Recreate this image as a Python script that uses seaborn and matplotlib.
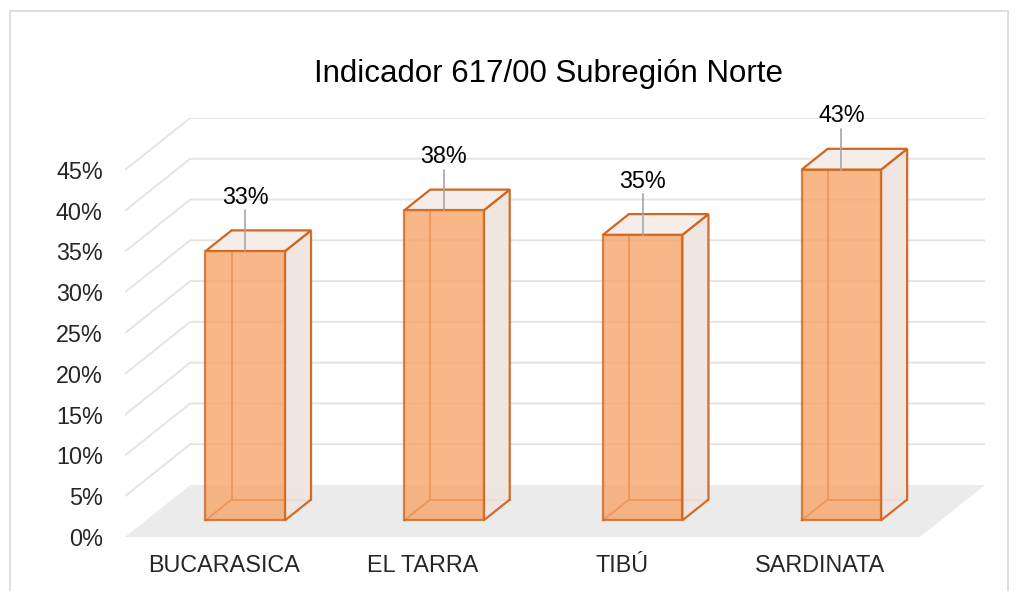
import numpy as np
import pandas as pd
import seaborn as sns
import matplotlib.pyplot as plt
from matplotlib.patches import Polygon, Rectangle

# data
municipios = ["BUCARASICA", "EL TARRA", "TIBÚ", "SARDINATA"]
porcentajes = [33, 38, 35, 43]
titulo = "Indicador 617/00 Subregión Norte"
y_ticks = list(range(0, 50, 5))

# pseudo-3D depth (category units / percent units)
DX, DY = 0.328, 6.37
Z0, Z1 = 0.32, 0.72
FACE = "#F8A468"
EDGE = "#D0661F"
SIDE = "#EFE5E0"
TOP = "#F4EDE9"
GRID = "#E4E4E4"

sns.set_style("white")
plt.rcParams["font.family"] = ["Liberation Sans", "DejaVu Sans"]

df = pd.DataFrame({"municipio": municipios, "valor": porcentajes})

fig = plt.figure(figsize=(10.18, 5.91), dpi=100)
ax = fig.add_axes([0.1228, 0.0914, 0.8448, 0.709])

sns.barplot(data=df, x="municipio", y="valor", width=0.4, color=FACE,
            saturation=1, alpha=0.8, edgecolor=EDGE, linewidth=1.6,
            ax=ax, zorder=5)

# floor
ax.add_patch(Polygon([(-0.5, 0), (3.5, 0), (3.5 + DX, DY), (-0.5 + DX, DY)],
                     closed=True, facecolor="#EBEBEB", edgecolor="none", zorder=0))

# gridlines: side wall + back wall
for v in y_ticks[1:]:
    ax.plot([-0.5, -0.5 + DX, 3.5 + DX], [v, v + DY, v + DY],
            color=GRID, lw=1.4, zorder=1, solid_capstyle="butt")

# 3D boxes from the seaborn bars
for p, val in zip(ax.patches[:len(porcentajes)], porcentajes):
    x0 = p.get_x() + Z0 * DX
    w = p.get_width()
    y0 = Z0 * DY
    h = p.get_height()
    p.set_x(x0)
    p.set_y(y0)
    bx, by = (Z1 - Z0) * DX, (Z1 - Z0) * DY
    # back edges (seen through front face)
    ax.plot([x0 + bx, x0 + bx, x0 + w + bx], [y0 + h + by, y0 + by, y0 + by],
            color=EDGE, lw=1.4, zorder=2)
    ax.plot([x0, x0 + bx], [y0, y0 + by], color=EDGE, lw=1.4, zorder=2)
    # right side face
    ax.add_patch(Polygon([(x0 + w, y0), (x0 + w + bx, y0 + by),
                          (x0 + w + bx, y0 + h + by), (x0 + w, y0 + h)],
                         closed=True, facecolor=SIDE, edgecolor=EDGE,
                         lw=1.6, zorder=3, alpha=0.95))
    # top face
    ax.add_patch(Polygon([(x0, y0 + h), (x0 + w, y0 + h),
                          (x0 + w + bx, y0 + h + by), (x0 + bx, y0 + h + by)],
                         closed=True, facecolor=TOP, edgecolor=EDGE,
                         lw=1.6, zorder=4))
    # data label with leader line
    cx = x0 + w / 2
    ly = y0 + h + 6.6
    ax.plot([cx, cx], [y0 + h, ly - 1.6], color="#A6A6A6", lw=1.2, zorder=6)
    ax.text(cx, ly, f"{val}%", ha="center", va="center", fontsize=16.8,
            color="#000000", zorder=7)

ax.set_xlim(-0.5, 3.5 + DX)
ax.set_ylim(0, 45 + DY)
ax.set_yticks(y_ticks)
ax.set_yticklabels([f"{t}%" for t in y_ticks], fontsize=16.8)
ax.set_xticks(range(len(municipios)))
ax.set_xticklabels(municipios, fontsize=16.8)
ax.tick_params(axis="y", length=0, pad=16)
ax.tick_params(axis="x", length=0, pad=12)
ax.set_xlabel("")
ax.set_ylabel("")
for s in ax.spines.values():
    s.set_visible(False)
ax.patch.set_alpha(0)

fig.text(549 / 1018, 1 - 74 / 591, titulo, ha="center", va="center",
         fontsize=22.5, color="#000000")

fig.add_artist(Rectangle((10 / 1018, -0.01), 998 / 1018, (591 - 11) / 591 + 0.01,
                         transform=fig.transFigure, fill=False,
                         edgecolor="#D9D9D9", lw=1.2))

fig.savefig("out.png", dpi=100)
